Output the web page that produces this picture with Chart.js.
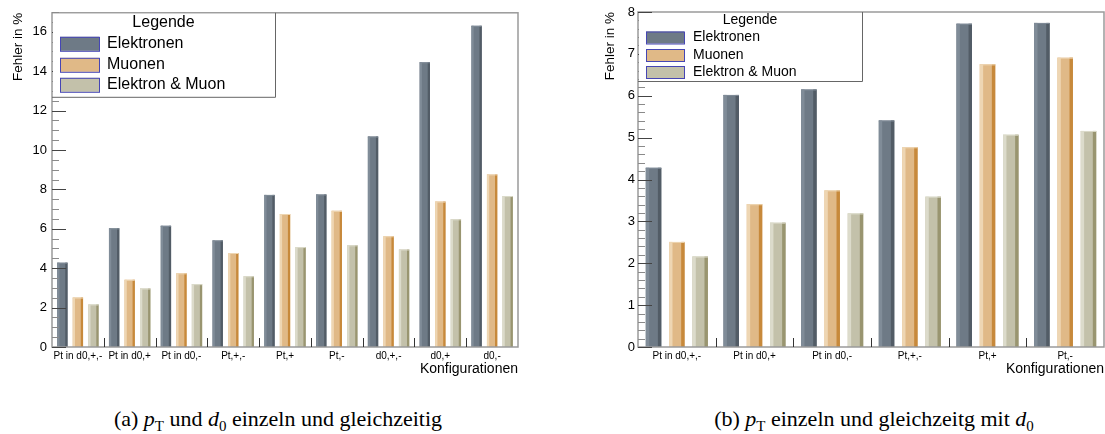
<!DOCTYPE html>
<html>
<head>
<meta charset="utf-8">
<script src="https://cdn.jsdelivr.net/npm/chart.js@4.4.0/dist/chart.umd.min.js"></script>
<style>
  body { margin: 0; background: #fff; width: 1105px; height: 434px; position: relative; overflow: hidden; }
  .box { position: absolute; top: 0; height: 378px; }
  #boxA { left: 0; width: 540px; }
  #boxB { left: 590px; width: 515px; }
  .caption {
    position: absolute; top: 406px; transform: translateX(-50%);
    font-family: "Liberation Serif", "DejaVu Serif", serif; font-size: 22px;
    color: #000; white-space: nowrap;
  }
  .caption sub { font-size: 68%; vertical-align: -0.32em; line-height: 0; }
  .caption i { font-style: italic; }
</style>
</head>
<body>
<div class="box" id="boxA"><canvas id="chartA"></canvas></div>
<div class="box" id="boxB"><canvas id="chartB"></canvas></div>
<div class="caption" style="left:278px">(a) <i>p</i><sub>T</sub> und <i>d</i><sub>0</sub> einzeln und gleichzeitig</div>
<div class="caption" style="left:874px">(b) <i>p</i><sub>T</sub> einzeln und gleichzeitg mit <i>d</i><sub>0</sub></div>
<script>
// Fehler in % pro Konfiguration
const categoriesA = ['Pt in d0,+,-', 'Pt in d0,+', 'Pt in d0,-', 'Pt,+,-', 'Pt,+', 'Pt,-', 'd0,+,-', 'd0,+', 'd0,-'];
const elektronenA = [4.28, 6.02, 6.15, 5.41, 7.72, 7.74, 10.68, 14.45, 16.30];
const muonenA = [2.51, 3.41, 3.74, 4.77, 6.75, 6.91, 5.62, 7.38, 8.76];
const beideA = [2.16, 2.97, 3.19, 3.59, 5.07, 5.16, 4.95, 6.48, 7.66];

const categoriesB = ['Pt in d0,+,-', 'Pt in d0,+', 'Pt in d0,-', 'Pt,+,-', 'Pt,+', 'Pt,-'];
const elektronenB = [4.28, 6.02, 6.15, 5.41, 7.72, 7.74];
const muonenB = [2.51, 3.41, 3.74, 4.77, 6.75, 6.91];
const beideB = [2.16, 2.97, 3.19, 3.59, 5.07, 5.16];

const seriesNames = ['Elektronen', 'Muonen', 'Elektron & Muon'];
const FONT = '"Liberation Sans", Arial, sans-serif';

// fill, left highlight, right shadow
const barColors = [
    { fill: '#6e7a86', light: '#808c98', dark: '#525c66' },
    { fill: '#e0b987', light: '#eed6b3', dark: '#c7893b' },
    { fill: '#c3c1aa', light: '#dcdbcb', dark: '#999570' }
];

// ROOT-like decorations: shaded bars, frame, inward ticks, legend box
const rootStyle = {
    id: 'rootStyle',
    afterDatasetsDraw(chart, args, opts) {
        const ctx = chart.ctx;
        const area = chart.chartArea;
        const xScale = chart.scales.x;
        const yScale = chart.scales.y;

        ctx.save();
        chart.data.datasets.forEach((ds, i) => {
            const c = barColors[i];
            chart.getDatasetMeta(i).data.forEach(bar => {
                const { x, y, base, width } = bar.getProps(['x', 'y', 'base', 'width'], true);
                const left = x - width / 2;
                const sw = width * 0.22;
                ctx.fillStyle = c.light;
                ctx.fillRect(left, y, sw, base - y);
                ctx.fillStyle = c.dark;
                ctx.fillRect(left + width - sw, y, sw, base - y);
                ctx.fillStyle = c.light;
                ctx.fillRect(left, y, width, 1);
            });
        });

        // frame
        ctx.strokeStyle = '#9a9a9a';
        ctx.lineWidth = 1.5;
        ctx.strokeRect(area.left, area.top, area.right - area.left, area.bottom - area.top);

        // y ticks pointing inwards, major + minor
        ctx.lineWidth = 1;
        const major = opts.majorStep;
        const n = Math.round(yScale.max / opts.minorStep);
        for (let k = 0; k <= n; k++) {
            const v = k * opts.minorStep;
            const py = Math.round(yScale.getPixelForValue(v)) + 0.5;
            const isMajor = Math.abs(v / major - Math.round(v / major)) < 1e-6;
            ctx.strokeStyle = isMajor ? '#444' : '#8a8a8a';
            ctx.beginPath();
            ctx.moveTo(area.left, py);
            ctx.lineTo(area.left + (isMajor ? 14 : 7), py);
            ctx.stroke();
        }

        // bin boundary ticks on the x axis
        ctx.strokeStyle = '#333';
        for (let i = 1; i < xScale.ticks.length; i++) {
            const px = Math.round((xScale.getPixelForValue(i - 1) + xScale.getPixelForValue(i)) / 2) + 0.5;
            ctx.beginPath();
            ctx.moveTo(px, area.bottom);
            ctx.lineTo(px, area.bottom - opts.binTick);
            ctx.stroke();
        }
        ctx.restore();
    },
    afterDraw(chart, args, opts) {
        const ctx = chart.ctx;
        const area = chart.chartArea;
        const lg = opts.legend;
        const x0 = area.left, y0 = area.top;

        ctx.save();
        ctx.fillStyle = '#fff';
        ctx.fillRect(x0 + 1, y0 + 1, lg.w - 1, lg.h - 1);
        ctx.strokeStyle = '#666';
        ctx.lineWidth = 1;
        ctx.beginPath();
        ctx.moveTo(x0 + lg.w + 0.5, y0);
        ctx.lineTo(x0 + lg.w + 0.5, y0 + lg.h + 0.5);
        ctx.lineTo(x0, y0 + lg.h + 0.5);
        ctx.stroke();

        ctx.fillStyle = '#000';
        ctx.textBaseline = 'middle';
        ctx.textAlign = 'center';
        ctx.font = lg.size + 'px ' + FONT;
        ctx.fillText('Legende', x0 + lg.w / 2, y0 + lg.titleY);

        ctx.textAlign = 'left';
        chart.data.datasets.forEach((ds, i) => {
            const cy = y0 + lg.rows[i];
            ctx.fillStyle = ds.backgroundColor;
            ctx.fillRect(x0 + lg.swatchX, cy - lg.swatchH / 2, lg.swatchW, lg.swatchH);
            ctx.strokeStyle = '#4646b4';
            ctx.strokeRect(x0 + lg.swatchX + 0.5, cy - lg.swatchH / 2 + 0.5, lg.swatchW, lg.swatchH);
            ctx.fillStyle = '#000';
            ctx.fillText(ds.label, x0 + lg.textX, cy);
        });
        ctx.restore();
    }
};

function makeChart(id, labels, values, cfg) {
    const datasets = values.map((data, i) => ({
        label: seriesNames[i],
        data: data,
        backgroundColor: barColors[i].fill,
        borderWidth: 0,
        categoryPercentage: 0.9,
        barPercentage: 0.6667
    }));

    return new Chart(document.getElementById(id), {
        type: 'bar',
        data: { labels: labels, datasets: datasets },
        plugins: [rootStyle],
        options: {
            responsive: true,
            maintainAspectRatio: false,
            animation: false,
            layout: { padding: { left: 0, top: 12, right: cfg.padRight, bottom: 0 } },
            plugins: {
                legend: { display: false },
                tooltip: { enabled: false },
                rootStyle: {
                    majorStep: cfg.step,
                    minorStep: cfg.minor,
                    binTick: 9,
                    legend: cfg.legend
                }
            },
            scales: {
                x: {
                    grid: { display: false, drawTicks: false },
                    border: { display: false },
                    ticks: {
                        autoSkip: false, maxRotation: 0, minRotation: 0, padding: 3,
                        color: '#000', font: { family: FONT, size: 10 }
                    },
                    title: {
                        display: true, text: 'Konfigurationen', align: 'end',
                        color: '#000', padding: 0, font: { family: FONT, size: 14 }
                    },
                    afterFit: (scale) => { scale.height = 31; }
                },
                y: {
                    min: 0,
                    max: cfg.yMax,
                    grid: { display: false, drawTicks: false },
                    border: { display: false },
                    ticks: {
                        stepSize: cfg.step, includeBounds: false, padding: cfg.labelPad,
                        color: '#000', font: { family: FONT, size: 13 }
                    },
                    title: {
                        display: true, text: 'Fehler in %', align: 'end',
                        color: '#000', padding: { top: cfg.titlePad, bottom: 0 },
                        font: { family: FONT, size: 13.5 }
                    },
                    afterFit: (scale) => { scale.width = cfg.axisWidth; }
                }
            }
        }
    });
}

makeChart('chartA', categoriesA, [elektronenA, muonenA, beideA], {
    yMax: 16.96, step: 2, minor: 0.5, padRight: 22, axisWidth: 52, labelPad: 5, titlePad: 10,
    legend: { w: 223, h: 84, titleY: 9.5, size: 16, rows: [31, 52, 72], swatchX: 8, swatchW: 39, swatchH: 14, textX: 55 }
});

makeChart('chartB', categoriesB, [elektronenB, muonenB, beideB], {
    yMax: 8, step: 1, minor: 0.2, padRight: 1, axisWidth: 48, labelPad: 3, titlePad: 12,
    legend: { w: 224, h: 69, titleY: 8, size: 14, rows: [25.5, 43, 60], swatchX: 8, swatchW: 38, swatchH: 12, textX: 55 }
});
</script>
</body>
</html>
